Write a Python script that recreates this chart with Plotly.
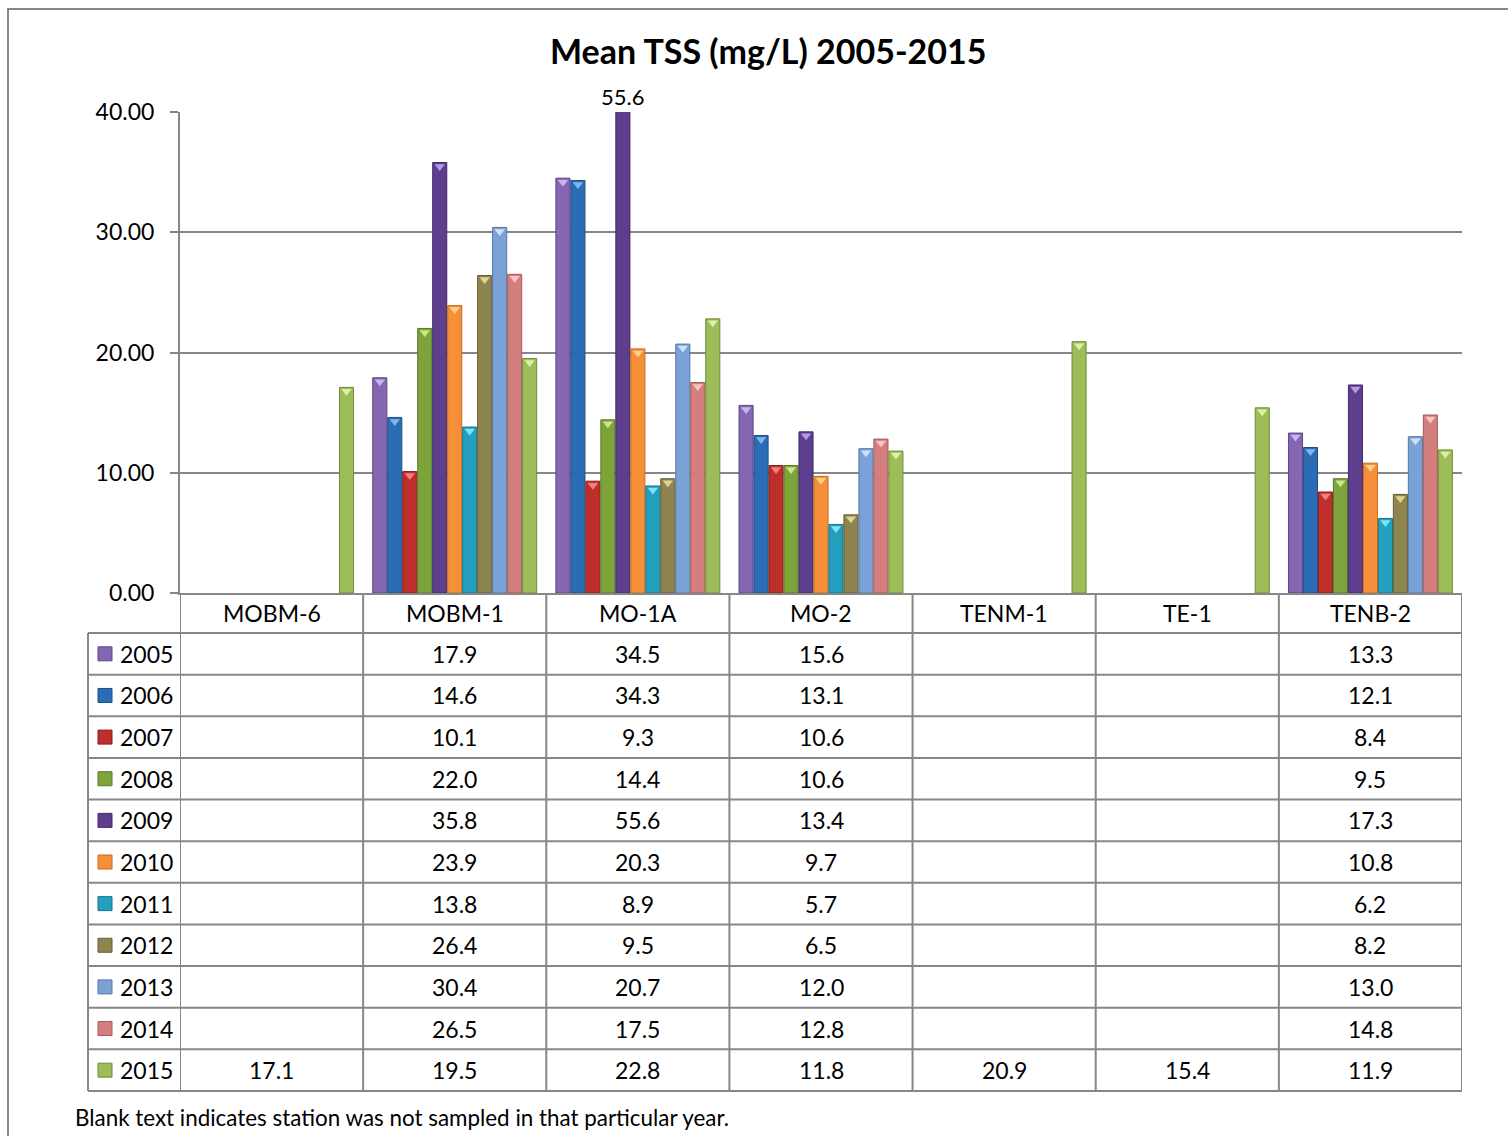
import plotly.graph_objects as go

# ---------------- data ----------------
stations = ["MOBM-6", "MOBM-1", "MO-1A", "MO-2", "TENM-1", "TE-1", "TENB-2"]
years = ["2005", "2006", "2007", "2008", "2009", "2010", "2011", "2012", "2013", "2014", "2015"]

v2005 = [None, 17.9, 34.5, 15.6, None, None, 13.3]
v2006 = [None, 14.6, 34.3, 13.1, None, None, 12.1]
v2007 = [None, 10.1, 9.3, 10.6, None, None, 8.4]
v2008 = [None, 22.0, 14.4, 10.6, None, None, 9.5]
v2009 = [None, 35.8, 55.6, 13.4, None, None, 17.3]
v2010 = [None, 23.9, 20.3, 9.7, None, None, 10.8]
v2011 = [None, 13.8, 8.9, 5.7, None, None, 6.2]
v2012 = [None, 26.4, 9.5, 6.5, None, None, 8.2]
v2013 = [None, 30.4, 20.7, 12.0, None, None, 13.0]
v2014 = [None, 26.5, 17.5, 12.8, None, None, 14.8]
v2015 = [17.1, 19.5, 22.8, 11.8, 20.9, 15.4, 11.9]
series = [v2005, v2006, v2007, v2008, v2009, v2010, v2011, v2012, v2013, v2014, v2015]

ytick_vals = [0, 10, 20, 30, 40]

# ---------------- style ----------------
bar_colors = ["#8566B0", "#2B6CB5", "#BE2F2B", "#7DA43A", "#5E3F8E", "#F58F3A",
              "#23A0BE", "#8D844F", "#7AA2D6", "#D47F7E", "#9CBD58"]
cap_colors = ["#C9B3F0", "#7FB6F2", "#F08080", "#C8E68A", "#B39BE6", "#FFD08A",
              "#7FE3F7", "#E0D48E", "#CDE2FA", "#FAC4C4", "#DDF0A6"]
edge_colors = ["#5E4585", "#1F4E85", "#8A1F1C", "#5A7827", "#412A66", "#C86A1E",
               "#167489", "#645D36", "#5577A6", "#A35A59", "#718C3D"]

FONT = "Lato"
GRID = "#878787"
W, H = 1508, 1136
L, R, T, B = 180, 46, 112, 543
PW, PH = W - L - R, H - T - B
YMAX = 40
BARGAP = 0.10
FS = 23


def px(x):
    return (x - L) / PW


def py(y):
    return (H - B - y) / PH


fig = go.Figure()

for i, (yr, vals) in enumerate(zip(years, series)):
    fig.add_trace(go.Bar(
        x=stations, y=vals, name=yr,
        marker=dict(color=bar_colors[i], line=dict(color=edge_colors[i], width=1)),
        showlegend=False,
    ))

# small triangular bevel caps at top of bars
cap_off = 4 * YMAX / PH
for i, (yr, vals) in enumerate(zip(years, series)):
    fig.add_trace(go.Scatter(
        x=stations,
        y=[(v - cap_off) if v is not None else None for v in vals],
        mode="markers",
        marker=dict(symbol="triangle-down", size=9, color=cap_colors[i],
                    line=dict(width=0)),
        showlegend=False, hoverinfo="skip",
    ))

n = len(years)
slot = PW / len(stations) * (1 - BARGAP) / n

# value label for clipped bar
for j, st in enumerate(stations):
    for i, vals in enumerate(series):
        v = vals[j]
        if v is not None and v > YMAX:
            fig.add_annotation(x=st, xref="x", y=YMAX, yref="y", text=f"{v:.1f}",
                               showarrow=False, yanchor="bottom", yshift=0,
                               xshift=(i - (n - 1) / 2) * slot,
                               font=dict(family=FONT, size=22, color="black"))

shapes = []
line = dict(color=GRID, width=2)

# table geometry (pixels)
hdr_top, hdr_bot = 593, 633
row_h = (1091 - 633) / n
leg_left = 88
tab_right = 1462

# horizontal lines
for k in range(n + 1):
    yy = hdr_bot + k * row_h
    shapes.append(dict(type="line", xref="paper", yref="paper",
                       x0=px(leg_left), x1=px(tab_right), y0=py(yy), y1=py(yy), line=line))
# vertical lines at category boundaries
for j in range(len(stations) + 1):
    shapes.append(dict(type="line", xref="x", yref="paper",
                       x0=j - 0.5, x1=j - 0.5, y0=py(hdr_top), y1=py(1091), line=line))
# legend column left border
shapes.append(dict(type="line", xref="paper", yref="paper",
                   x0=px(leg_left), x1=px(leg_left), y0=py(hdr_bot), y1=py(1091), line=line))

# outer chart border
shapes.append(dict(type="rect", xref="paper", yref="paper",
                   x0=px(8), x1=px(W + 20), y0=py(9), y1=py(H + 20),
                   line=dict(color=GRID, width=2), layer="below"))

# header labels
for j, st in enumerate(stations):
    fig.add_annotation(x=st, xref="x", y=py((hdr_top + hdr_bot) / 2), yref="paper",
                       text=st, showarrow=False, yanchor="middle",
                       font=dict(family=FONT, size=FS, color="black"))

# rows
for i, (yr, vals) in enumerate(zip(years, series)):
    yc = hdr_bot + (i + 0.5) * row_h
    shapes.append(dict(type="rect", xref="paper", yref="paper",
                       x0=px(98), x1=px(112), y0=py(yc - 7), y1=py(yc + 7),
                       fillcolor=bar_colors[i], line=dict(color=edge_colors[i], width=1)))
    fig.add_annotation(x=px(118), xref="paper", y=py(yc), yref="paper", text=yr,
                       showarrow=False, xanchor="left", yanchor="middle",
                       font=dict(family=FONT, size=FS, color="black"))
    for j, st in enumerate(stations):
        v = vals[j]
        if v is None:
            continue
        fig.add_annotation(x=st, xref="x", y=py(yc), yref="paper", text=f"{v:.1f}",
                           showarrow=False, yanchor="middle",
                           font=dict(family=FONT, size=FS, color="black"))

# title
fig.add_annotation(x=px(768), xref="paper", y=py(50), yref="paper",
                   text="<b>Mean TSS (mg/L) 2005-2015</b>", showarrow=False,
                   xanchor="center", yanchor="middle",
                   font=dict(family=FONT, size=34, color="black"))

# footnote
fig.add_annotation(x=px(73), xref="paper", y=py(1117), yref="paper",
                   text="Blank text indicates station was not sampled in that particular year.",
                   showarrow=False, xanchor="left", yanchor="middle",
                   font=dict(family=FONT, size=22.4, color="black"))

fig.update_layout(
    width=W, height=H,
    margin=dict(l=L, r=R, t=T, b=B, pad=0),
    paper_bgcolor="white", plot_bgcolor="white",
    barmode="group", bargap=BARGAP, bargroupgap=0.06,
    scattermode="group", scattergap=BARGAP,
    shapes=shapes,
    font=dict(family=FONT, size=FS, color="black"),
)
fig.update_xaxes(type="category", showticklabels=False, showgrid=False,
                 showline=True, linecolor=GRID, linewidth=2, ticks="",
                 range=[-0.5, len(stations) - 0.5], fixedrange=True)
fig.update_yaxes(range=[0, YMAX], tickvals=ytick_vals, tickformat=".2f",
                 showgrid=True, gridcolor=GRID, gridwidth=1.5,
                 showline=True, linecolor=GRID, linewidth=2,
                 ticks="outside", ticklen=8, tickcolor=GRID, tickwidth=2,
                 ticklabelstandoff=11,
                 tickfont=dict(family=FONT, size=FS, color="black"),
                 zeroline=False, fixedrange=True)

fig.write_html("out.html", config={"displayModeBar": False},
               post_script="document.body.style.margin='0px';document.body.style.overflow='hidden';")
